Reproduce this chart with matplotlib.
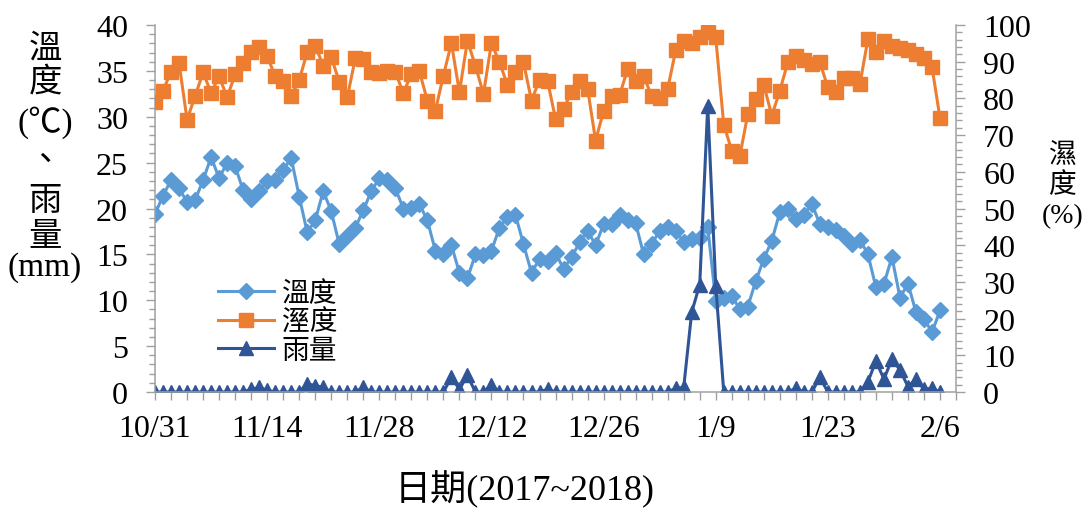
import numpy as np
import pandas as pd
import matplotlib
matplotlib.use('Agg')
import matplotlib.pyplot as plt
from matplotlib.ticker import MultipleLocator

plt.rcParams['font.family'] = ['Liberation Serif', 'Noto Sans CJK TC']

# daily records, 2017/10/31 - 2018/2/6
dates = pd.date_range('2017-10-31', '2018-02-06', freq='D')

temp = [19.4, 21.4, 23.1, 22.2, 20.7, 20.9, 23.1, 25.6, 23.3, 25.0,
        24.6, 22.0, 21.0, 21.9, 23.0, 23.1, 24.2, 25.5, 21.3, 17.4,
        18.7, 21.9, 19.7, 16.1, 17.0, 17.9, 19.8, 21.9, 23.3, 23.1,
        22.2, 20.0, 20.1, 20.5, 18.7, 15.4, 15.0, 16.0, 13.0, 12.4,
        15.0, 14.9, 15.4, 17.9, 19.1, 19.3, 16.1, 13.0, 14.5, 14.3,
        15.2, 13.4, 14.7, 16.3, 17.6, 16.0, 18.3, 18.3, 19.3, 18.7,
        18.4, 15.0, 16.1, 17.6, 18.0, 17.6, 16.3, 16.7, 16.8, 18.0,
        9.9, 10.3, 10.5, 9.0, 9.3, 12.1, 14.5, 16.5, 19.6, 20.0,
        18.9, 19.3, 20.5, 18.3, 18.0, 17.7, 17.0, 16.1, 16.6, 15.0,
        11.4, 11.8, 14.7, 10.3, 11.8, 8.7, 8.0, 6.5, 8.9]

humid = [78.9, 82.1, 87.3, 89.6, 74.2, 80.6, 87.1, 81.5, 86.0, 80.3,
         86.6, 89.6, 92.6, 93.9, 91.6, 86.0, 84.8, 80.7, 85.0, 92.6,
         94.4, 88.9, 91.2, 84.6, 80.3, 90.9, 90.7, 87.1, 86.9, 87.5,
         87.1, 81.5, 86.6, 87.4, 79.4, 76.7, 86.2, 95.1, 81.7, 95.7,
         88.9, 81.2, 95.1, 89.8, 83.7, 87.1, 89.8, 79.4, 85.1, 84.8,
         74.4, 77.1, 81.8, 84.8, 82.7, 68.5, 76.6, 80.7, 80.9, 88.0,
         84.8, 86.2, 80.6, 80.0, 82.6, 93.1, 95.7, 95.1, 96.6, 98.2,
         96.6, 72.8, 65.8, 64.2, 75.7, 79.8, 83.7, 75.3, 82.1, 89.8,
         91.6, 90.5, 89.4, 89.8, 83.0, 81.8, 85.5, 85.5, 83.9, 96.2,
         92.7, 95.7, 94.2, 93.7, 93.3, 92.1, 90.9, 88.5, 74.6]

rain = [0, 0, 0, 0, 0, 0, 0, 0, 0, 0,
        0, 0, 0.3, 0.5, 0.2, 0, 0, 0, 0, 0.9,
        0.7, 0.5, 0, 0, 0, 0, 0.5, 0, 0, 0,
        0, 0, 0, 0, 0, 0, 0, 1.6, 0.3, 1.8,
        0, 0, 0.8, 0, 0, 0, 0, 0, 0, 0.3,
        0, 0, 0, 0, 0, 0, 0, 0, 0, 0,
        0, 0, 0, 0, 0, 0.4, 0.5, 8.7, 11.7, 31.2,
        11.6, 0, 0, 0, 0, 0, 0, 0, 0, 0,
        0.4, 0, 0, 1.6, 0, 0, 0, 0, 0, 1.1,
        3.4, 1.4, 3.6, 2.4, 0.6, 1.4, 0.3, 0.4, 0]

tick_dates = pd.date_range('2017-10-31', periods=8, freq='14D')
tick_labels = ['10/31', '11/14', '11/28', '12/12', '12/26', '1/9', '1/23', '2/6']

c_temp = '#5B9BD5'
c_humid = '#ED7D31'
c_rain = '#2F5597'
gray = '#A0A0A0'

fig = plt.figure(figsize=(10.91, 5.10), dpi=100)
ax = fig.add_axes([0.1421, 0.2294, 0.7342, 0.7196])
ax2 = ax.twinx()

l1, = ax.plot(dates, temp, color=c_temp, lw=2.2, marker='D', ms=8,
              mfc=c_temp, mec=c_temp, label='溫度')
l3, = ax.plot(dates, rain, color=c_rain, lw=2.2, marker='^', ms=10,
              mfc=c_rain, mec=c_rain, label='雨量')
l2, = ax2.plot(dates, humid, color=c_humid, lw=2.2, marker='s', ms=10,
               mfc=c_humid, mec=c_humid, label='溼度')

ax.set_xlim(pd.Timestamp('2017-10-31'), pd.Timestamp('2018-02-08'))
ax.set_ylim(0, 40)
ax2.set_ylim(0, 100)

ax.set_xticks(tick_dates)
ax.set_xticklabels(tick_labels)
ax.set_xticks(pd.date_range('2017-10-31', '2018-02-08', freq='2D'), minor=True)
ax.yaxis.set_major_locator(MultipleLocator(5))
ax.yaxis.set_minor_locator(MultipleLocator(1))
ax2.yaxis.set_major_locator(MultipleLocator(10))
ax2.yaxis.set_minor_locator(MultipleLocator(2))

for s in ['top', 'right']:
    ax.spines[s].set_visible(False)
for s in ['top', 'left', 'bottom']:
    ax2.spines[s].set_visible(False)
for s in [ax.spines['left'], ax.spines['bottom'], ax2.spines['right']]:
    s.set_color(gray)
    s.set_linewidth(1.1)

ax.tick_params(axis='y', which='major', length=6.5, width=1, color=gray, pad=13, labelsize=23)
ax.tick_params(axis='y', which='minor', length=4, width=1, color=gray)
ax.tick_params(axis='x', which='both', length=6, width=1, color=gray, pad=10, labelsize=23)
ax2.tick_params(axis='y', which='major', length=6.5, width=1, color=gray, pad=13, labelsize=23)
ax2.tick_params(axis='y', which='minor', length=4, width=1, color=gray)

ax2.legend([l1, l2, l3], ['溫度', '溼度', '雨量'], loc='upper left',
           bbox_to_anchor=(218 / 1091, 1 - 282 / 510), bbox_transform=fig.transFigure,
           frameon=False, fontsize=20, handlelength=2.0, handletextpad=0.3,
           labelspacing=0.1, borderpad=0, borderaxespad=0)

# stacked axis titles
left_parts = ['溫', '度', '(℃)', '、', '雨', '量', '(mm)']
left_y = [49, 83, 123, 162, 202, 237, 268]
for t, y in zip(left_parts, left_y):
    fig.text(45 / 1091, 1 - y / 510, t, ha='center', va='center', fontsize=24)

right_parts = ['濕', '度', '(%)']
right_y = [157, 186, 217]
for t, y in zip(right_parts, right_y):
    fig.text(1063 / 1091, 1 - y / 510, t, ha='center', va='center', fontsize=20)

fig.text(525 / 1091, 1 - 490 / 510, '日期(2017~2018)', ha='center', va='center', fontsize=26)

fig.savefig('out.png', dpi=100)
